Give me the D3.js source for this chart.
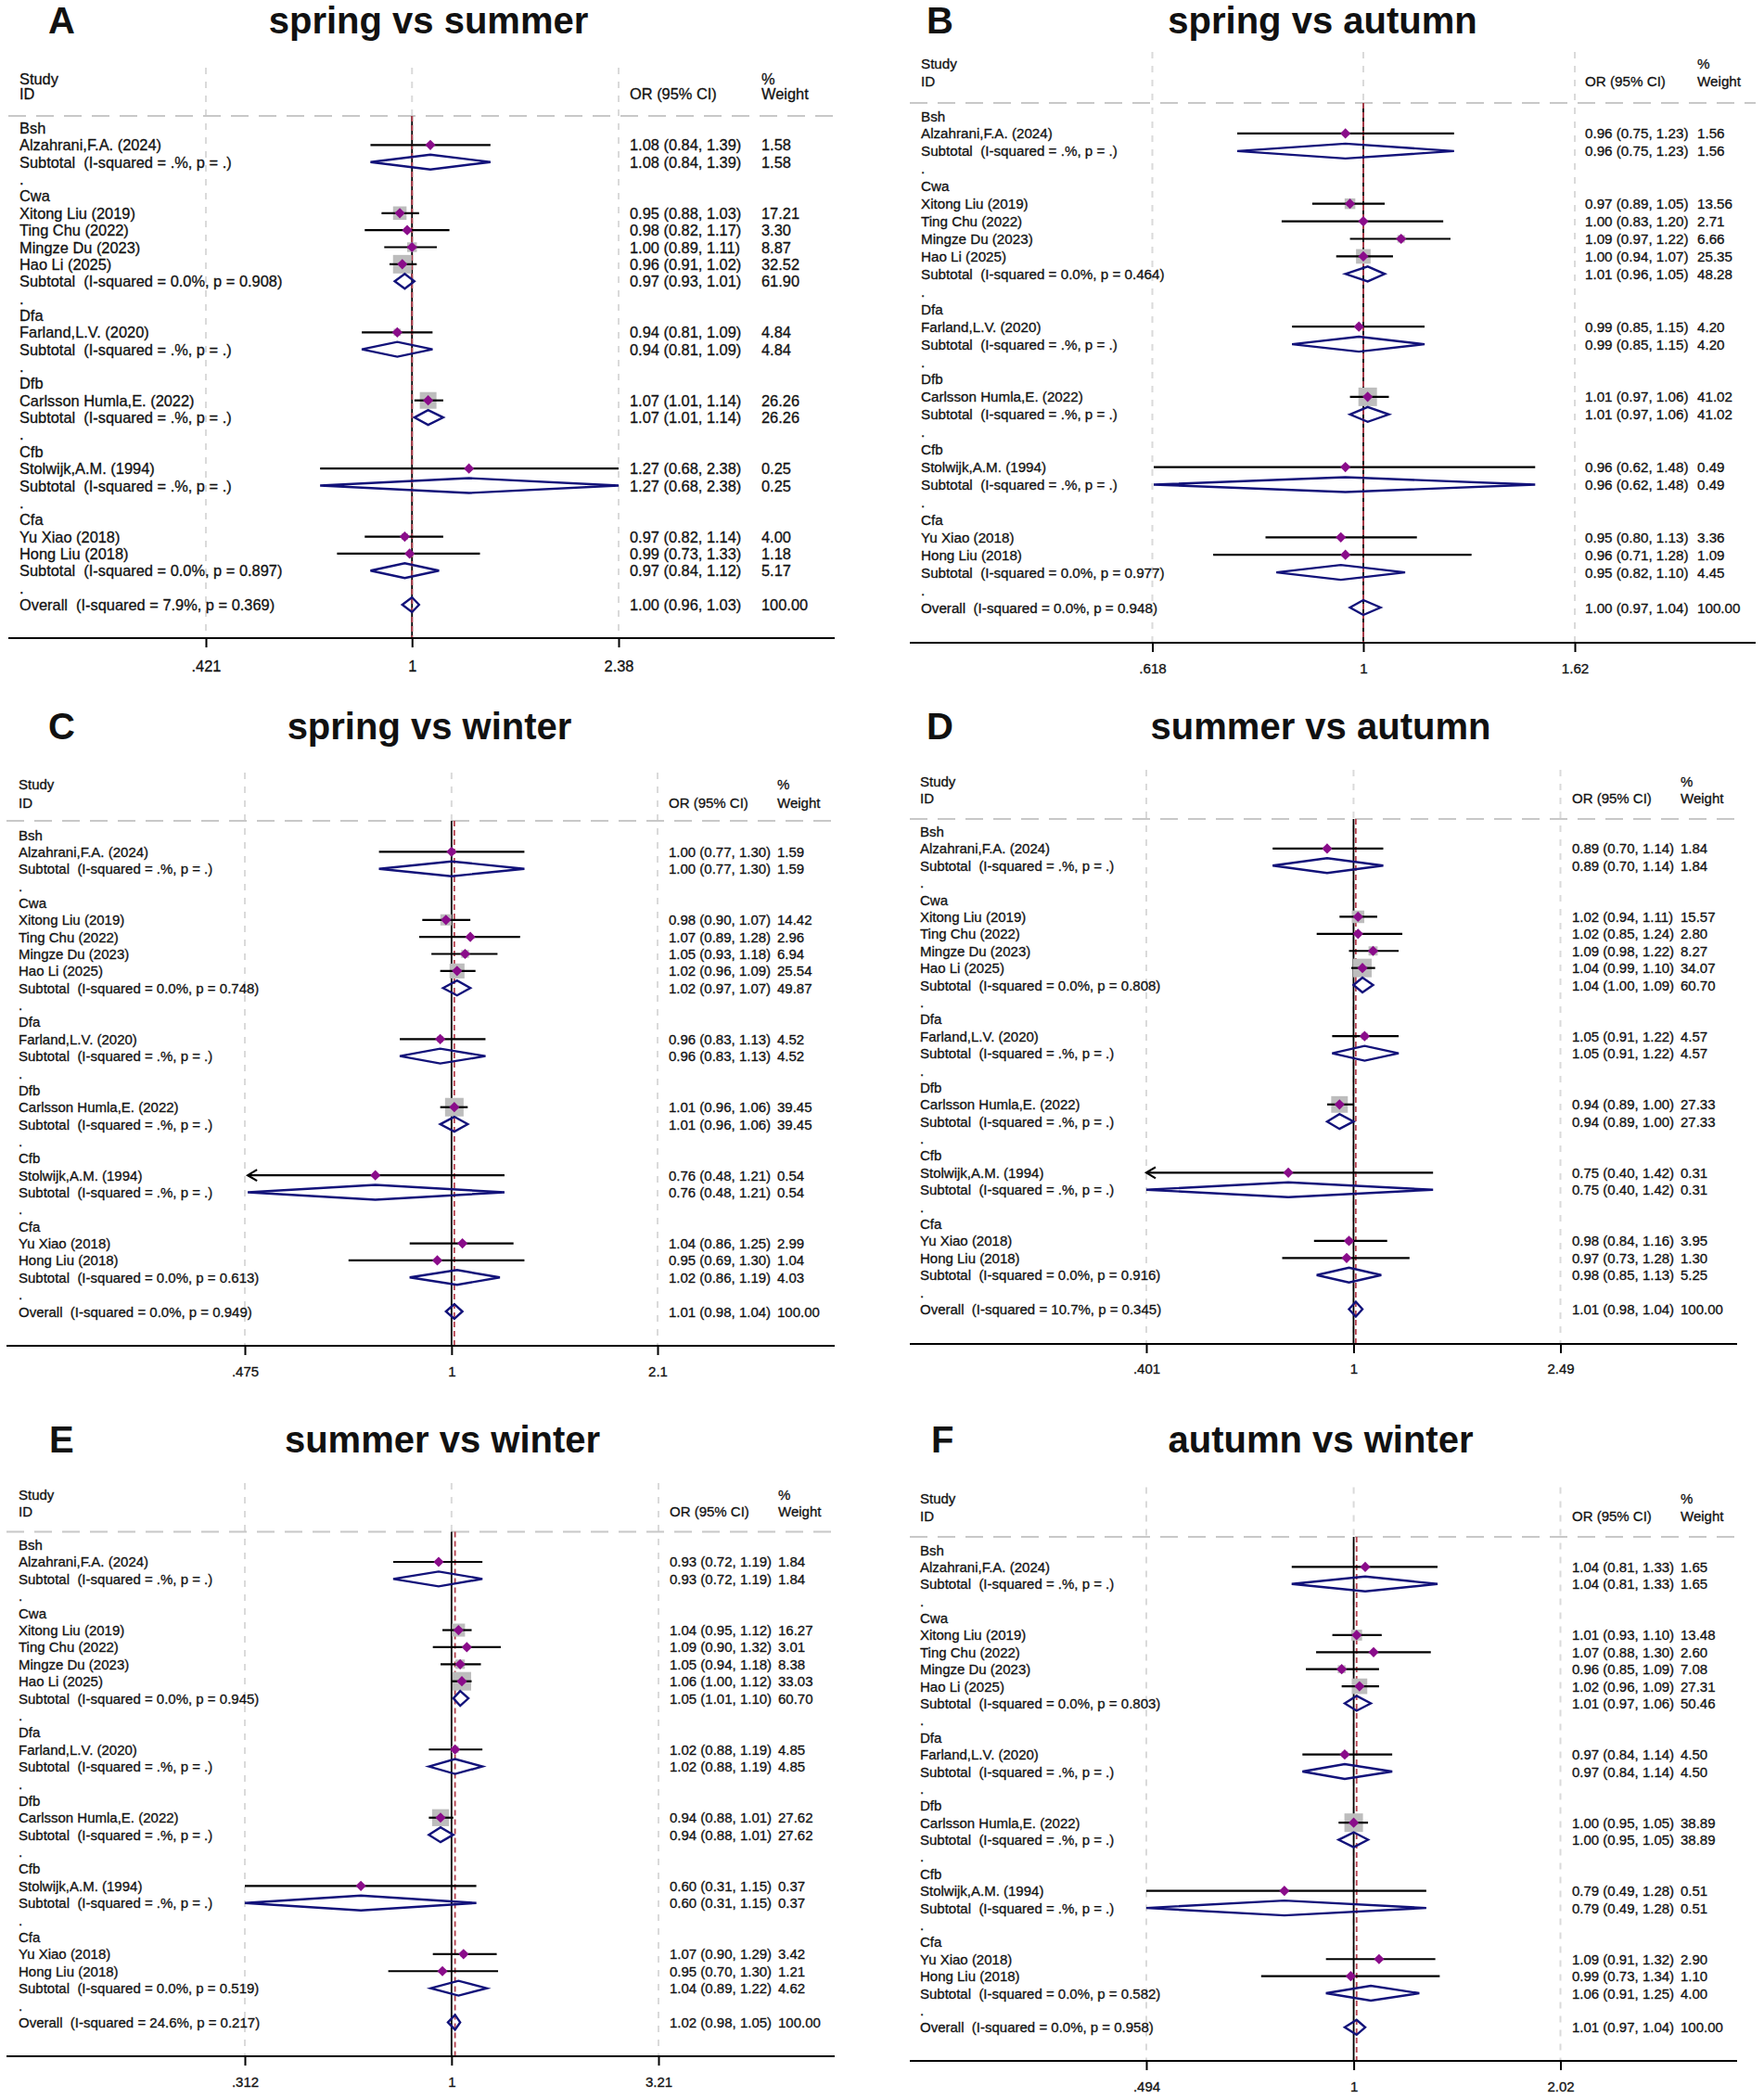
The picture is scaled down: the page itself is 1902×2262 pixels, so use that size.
<!DOCTYPE html>
<html>
<head>
<meta charset="utf-8">
<script src="https://cdn.jsdelivr.net/npm/d3@7"></script>
<style>
  body { margin: 0; background: #fff; }
  text { font-family: "Liberation Sans", Arial, sans-serif; white-space: pre; fill: #111; }
  .row text, .hdr, .tick text { stroke: #111; stroke-width: 0.3px; }
</style>
</head>
<body>
<svg id="chart" width="1902" height="2262"></svg>
<script>
// ---- data ----
const studies = ['Alzahrani,F.A. (2024)', 'Xitong Liu (2019)', 'Ting Chu (2022)', 'Mingze Du (2023)',
  'Hao Li (2025)', 'Farland,L.V. (2020)', 'Carlsson Humla,E. (2022)', 'Stolwijk,A.M. (1994)',
  'Yu Xiao (2018)', 'Hong Liu (2018)'];
const studyGroup = ['Bsh', 'Cwa', 'Cwa', 'Cwa', 'Cwa', 'Dfa', 'Dfb', 'Cfb', 'Cfa', 'Cfa'];
const groups = ['Bsh', 'Cwa', 'Dfa', 'Dfb', 'Cfb', 'Cfa'];

const panelLetters = ['A', 'B', 'C', 'D', 'E', 'F'];
const panelTitles = ['spring vs summer', 'spring vs autumn', 'spring vs winter',
  'summer vs autumn', 'summer vs winter', 'autumn vs winter'];
const tickLabels = [
  ['.421', '1', '2.38'], ['.618', '1', '1.62'], ['.475', '1', '2.1'],
  ['.401', '1', '2.49'], ['.312', '1', '3.21'], ['.494', '1', '2.02']
];
// studies that run off the left end of the axis and get an arrow
const arrowStudies = [[], [], ['Stolwijk,A.M. (1994)'], ['Stolwijk,A.M. (1994)'], [], []];

// [OR, lower, upper, weight]
const studyA = [[1.08, 0.84, 1.39, 1.58], [0.95, 0.88, 1.03, 17.21], [0.98, 0.82, 1.17, 3.30], [1.00, 0.89, 1.11, 8.87],
  [0.96, 0.91, 1.02, 32.52], [0.94, 0.81, 1.09, 4.84], [1.07, 1.01, 1.14, 26.26], [1.27, 0.68, 2.38, 0.25],
  [0.97, 0.82, 1.14, 4.00], [0.99, 0.73, 1.33, 1.18]];
const studyB = [[0.96, 0.75, 1.23, 1.56], [0.97, 0.89, 1.05, 13.56], [1.00, 0.83, 1.20, 2.71], [1.09, 0.97, 1.22, 6.66],
  [1.00, 0.94, 1.07, 25.35], [0.99, 0.85, 1.15, 4.20], [1.01, 0.97, 1.06, 41.02], [0.96, 0.62, 1.48, 0.49],
  [0.95, 0.80, 1.13, 3.36], [0.96, 0.71, 1.28, 1.09]];
const studyC = [[1.00, 0.77, 1.30, 1.59], [0.98, 0.90, 1.07, 14.42], [1.07, 0.89, 1.28, 2.96], [1.05, 0.93, 1.18, 6.94],
  [1.02, 0.96, 1.09, 25.54], [0.96, 0.83, 1.13, 4.52], [1.01, 0.96, 1.06, 39.45], [0.76, 0.48, 1.21, 0.54],
  [1.04, 0.86, 1.25, 2.99], [0.95, 0.69, 1.30, 1.04]];
const studyD = [[0.89, 0.70, 1.14, 1.84], [1.02, 0.94, 1.11, 15.57], [1.02, 0.85, 1.24, 2.80], [1.09, 0.98, 1.22, 8.27],
  [1.04, 0.99, 1.10, 34.07], [1.05, 0.91, 1.22, 4.57], [0.94, 0.89, 1.00, 27.33], [0.75, 0.40, 1.42, 0.31],
  [0.98, 0.84, 1.16, 3.95], [0.97, 0.73, 1.28, 1.30]];
const studyE = [[0.93, 0.72, 1.19, 1.84], [1.04, 0.95, 1.12, 16.27], [1.09, 0.90, 1.32, 3.01], [1.05, 0.94, 1.18, 8.38],
  [1.06, 1.00, 1.12, 33.03], [1.02, 0.88, 1.19, 4.85], [0.94, 0.88, 1.01, 27.62], [0.60, 0.31, 1.15, 0.37],
  [1.07, 0.90, 1.29, 3.42], [0.95, 0.70, 1.30, 1.21]];
const studyF = [[1.04, 0.81, 1.33, 1.65], [1.01, 0.93, 1.10, 13.48], [1.07, 0.88, 1.30, 2.60], [0.96, 0.85, 1.09, 7.08],
  [1.02, 0.96, 1.09, 27.31], [0.97, 0.84, 1.14, 4.50], [1.00, 0.95, 1.05, 38.89], [0.79, 0.49, 1.28, 0.51],
  [1.09, 0.91, 1.32, 2.90], [0.99, 0.73, 1.34, 1.10]];

// [OR, lower, upper, weight, I-squared, p]  (null = single study)
const subtotalA = [[1.08, 0.84, 1.39, 1.58, null, null], [0.97, 0.93, 1.01, 61.90, 0.0, 0.908], [0.94, 0.81, 1.09, 4.84, null, null],
  [1.07, 1.01, 1.14, 26.26, null, null], [1.27, 0.68, 2.38, 0.25, null, null], [0.97, 0.84, 1.12, 5.17, 0.0, 0.897]];
const subtotalB = [[0.96, 0.75, 1.23, 1.56, null, null], [1.01, 0.96, 1.05, 48.28, 0.0, 0.464], [0.99, 0.85, 1.15, 4.20, null, null],
  [1.01, 0.97, 1.06, 41.02, null, null], [0.96, 0.62, 1.48, 0.49, null, null], [0.95, 0.82, 1.10, 4.45, 0.0, 0.977]];
const subtotalC = [[1.00, 0.77, 1.30, 1.59, null, null], [1.02, 0.97, 1.07, 49.87, 0.0, 0.748], [0.96, 0.83, 1.13, 4.52, null, null],
  [1.01, 0.96, 1.06, 39.45, null, null], [0.76, 0.48, 1.21, 0.54, null, null], [1.02, 0.86, 1.19, 4.03, 0.0, 0.613]];
const subtotalD = [[0.89, 0.70, 1.14, 1.84, null, null], [1.04, 1.00, 1.09, 60.70, 0.0, 0.808], [1.05, 0.91, 1.22, 4.57, null, null],
  [0.94, 0.89, 1.00, 27.33, null, null], [0.75, 0.40, 1.42, 0.31, null, null], [0.98, 0.85, 1.13, 5.25, 0.0, 0.916]];
const subtotalE = [[0.93, 0.72, 1.19, 1.84, null, null], [1.05, 1.01, 1.10, 60.70, 0.0, 0.945], [1.02, 0.88, 1.19, 4.85, null, null],
  [0.94, 0.88, 1.01, 27.62, null, null], [0.60, 0.31, 1.15, 0.37, null, null], [1.04, 0.89, 1.22, 4.62, 0.0, 0.519]];
const subtotalF = [[1.04, 0.81, 1.33, 1.65, null, null], [1.01, 0.97, 1.06, 50.46, 0.0, 0.803], [0.97, 0.84, 1.14, 4.50, null, null],
  [1.00, 0.95, 1.05, 38.89, null, null], [0.79, 0.49, 1.28, 0.51, null, null], [1.06, 0.91, 1.25, 4.00, 0.0, 0.582]];

const overallA = [1.00, 0.96, 1.03, 100.00, 7.9, 0.369];
const overallB = [1.00, 0.97, 1.04, 100.00, 0.0, 0.948];
const overallC = [1.01, 0.98, 1.04, 100.00, 0.0, 0.949];
const overallD = [1.01, 0.98, 1.04, 100.00, 10.7, 0.345];
const overallE = [1.02, 0.98, 1.05, 100.00, 24.6, 0.217];
const overallF = [1.01, 0.97, 1.04, 100.00, 0.0, 0.958];

const studyData = [studyA, studyB, studyC, studyD, studyE, studyF];
const subtotalData = [subtotalA, subtotalB, subtotalC, subtotalD, subtotalE, subtotalF];
const overallData = [overallA, overallB, overallC, overallD, overallE, overallF];

// ---- layout of each panel (pixels) ----
const layouts = [
  { letterX: 52, titleX: 462, titleY: 22, studyY: 85, idY: 101, headerY: 125, row0: 138, rowLast: 652,
    axisY: 688, tickLabelY: 718, xMin: 222, xMax: 667, left: 9, right: 900, textX: 21, orX: 679, wX: 821, font: 16.4 },
  { letterX: 999, titleX: 1426, titleY: 22, studyY: 68, idY: 87, headerY: 111, row0: 125, rowLast: 655,
    axisY: 693, tickLabelY: 721, xMin: 1242.5, xMax: 1698, left: 981, right: 1893, textX: 993, orX: 1709, wX: 1830, font: 15.2 },
  { letterX: 52, titleX: 463, titleY: 783, studyY: 845, idY: 865, headerY: 885, row0: 900, rowLast: 1414,
    axisY: 1451, tickLabelY: 1479, xMin: 264, xMax: 709, left: 7, right: 900, textX: 20, orX: 721, wX: 838, font: 15 },
  { letterX: 999, titleX: 1424, titleY: 783, studyY: 842, idY: 860, headerY: 883, row0: 896.5, rowLast: 1411.5,
    axisY: 1449, tickLabelY: 1476, xMin: 1236, xMax: 1682.5, left: 981, right: 1873, textX: 992, orX: 1695, wX: 1812, font: 15 },
  { letterX: 53, titleX: 477, titleY: 1552, studyY: 1611, idY: 1629, headerY: 1651.5, row0: 1665.6, rowLast: 2180.4,
    axisY: 2217, tickLabelY: 2244.5, xMin: 264, xMax: 710, left: 7, right: 900, textX: 20, orX: 722, wX: 839, font: 15 },
  { letterX: 1004, titleX: 1424, titleY: 1552, studyY: 1615.6, idY: 1634.5, headerY: 1657, row0: 1671, rowLast: 2185.8,
    axisY: 2222, tickLabelY: 2250, xMin: 1236, xMax: 1682.5, left: 981, right: 1873, textX: 992, orX: 1695, wX: 1812, font: 15 }
];

const PURPLE = '#8a0c8a';
const NAVY = '#12127a';
const BOX_GREY = '#bdbdbd';
const MAX_BOX = 20;

var svg = d3.select('#chart');

function ciText(v) {
  return v[0].toFixed(2) + ' (' + v[1].toFixed(2) + ', ' + v[2].toFixed(2) + ')';
}
function hetText(v) {
  return v[4] === null ? '(I-squared = .%, p = .)'
    : '(I-squared = ' + v[4].toFixed(1) + '%, p = ' + v[5].toFixed(3) + ')';
}

function buildRows(i) {
  var rows = [];
  groups.forEach(function (g, gi) {
    rows.push({ type: 'group', label: g });
    studyGroup.forEach(function (sg, si) {
      if (sg === g) rows.push({ type: 'study', label: studies[si], v: studyData[i][si] });
    });
    rows.push({ type: 'subtotal', label: 'Subtotal  ' + hetText(subtotalData[i][gi]), v: subtotalData[i][gi] });
    rows.push({ type: 'spacer', label: '.' });
  });
  rows.push({ type: 'overall', label: 'Overall  ' + hetText(overallData[i]), v: overallData[i] });
  return rows;
}

function drawPanel(i) {
  var L = layouts[i];
  var fs = L.font;
  var g = svg.append('g').attr('class', 'panel');
  var tickVals = tickLabels[i].map(function (t) { return +t; });
  var x = d3.scaleLog().domain([tickVals[0], tickVals[2]]).range([L.xMin, L.xMax]);
  var dMin = tickVals[0], dMax = tickVals[2];
  var cx = function (v) { return x(Math.max(dMin, Math.min(dMax, v))); };
  var rows = buildRows(i);
  var y = d3.scalePoint().domain(d3.range(rows.length)).range([L.row0, L.rowLast]);
  var maxW = d3.max(studyData[i], function (d) { return d[3]; });

  // letter and title
  g.append('text').attr('x', L.letterX).attr('y', L.titleY).attr('dominant-baseline', 'central')
    .style('font-size', '40px').style('font-weight', 'bold').text(panelLetters[i]);
  g.append('text').attr('x', L.titleX).attr('y', L.titleY).attr('dominant-baseline', 'central')
    .attr('text-anchor', 'middle').style('font-size', '40px').style('font-weight', 'bold').text(panelTitles[i]);

  // grid lines at the ticks
  g.selectAll('.grid').data(tickVals).enter().append('line')
    .attr('x1', function (d) { return x(d); }).attr('x2', function (d) { return x(d); })
    .attr('y1', L.studyY - 12).attr('y2', L.axisY)
    .attr('stroke', '#dadada').attr('stroke-width', 2).attr('stroke-dasharray', '7,8');

  // header separator
  g.append('line').attr('x1', L.left).attr('x2', L.right).attr('y1', L.headerY).attr('y2', L.headerY)
    .attr('stroke', '#c8c8c8').attr('stroke-width', 2).attr('stroke-dasharray', '19,11');

  // null line and overall estimate line
  g.append('line').attr('x1', x(1)).attr('x2', x(1)).attr('y1', L.headerY).attr('y2', L.axisY)
    .attr('stroke', '#000').attr('stroke-width', 1.8);
  g.append('line').attr('x1', x(overallData[i][0])).attr('x2', x(overallData[i][0]))
    .attr('y1', L.headerY).attr('y2', L.axisY)
    .attr('stroke', '#b5404e').attr('stroke-width', 1.8).attr('stroke-dasharray', '6,4');

  // axis
  g.append('line').attr('x1', L.left).attr('x2', L.right).attr('y1', L.axisY).attr('y2', L.axisY)
    .attr('stroke', '#000').attr('stroke-width', 2);
  var axis = d3.axisBottom(x).tickValues(tickVals)
    .tickFormat(function (d, k) { return tickLabels[i][k]; })
    .tickSize(10).tickSizeOuter(0).tickPadding(L.tickLabelY - L.axisY - 10 - 0.35 * fs);
  var ax = g.append('g').attr('transform', 'translate(0,' + L.axisY + ')').call(axis);
  ax.select('.domain').remove();
  ax.selectAll('line').attr('stroke-width', 2);
  ax.selectAll('text').style('font-size', fs + 'px').style('font-family', '"Liberation Sans", Arial, sans-serif');

  // header texts
  var hdr = [['Study', L.textX, L.studyY], ['ID', L.textX, L.idY], ['OR (95% CI)', L.orX, L.idY],
    ['%', L.wX, L.studyY], ['Weight', L.wX, L.idY]];
  g.selectAll('.hdr').data(hdr).enter().append('text').attr('class', 'hdr')
    .attr('x', function (d) { return d[1]; }).attr('y', function (d) { return d[2]; })
    .attr('dominant-baseline', 'central').style('font-size', fs + 'px').text(function (d) { return d[0]; });

  // row labels
  var row = g.selectAll('.row').data(rows).enter().append('g').attr('class', 'row')
    .attr('transform', function (d, k) { return 'translate(0,' + y(k) + ')'; });
  row.append('text').attr('x', L.textX)
    .attr('dominant-baseline', 'central').style('font-size', fs + 'px')
    .text(function (d) { return d.label; });
  var withVal = row.filter(function (d) { return d.v; });
  withVal.append('text').attr('x', L.orX).attr('dominant-baseline', 'central').style('font-size', fs + 'px')
    .text(function (d) { return ciText(d.v); });
  withVal.append('text').attr('x', L.wX).attr('dominant-baseline', 'central').style('font-size', fs + 'px')
    .text(function (d) { return d.v[3].toFixed(2); });

  // study marks
  var st = row.filter(function (d) { return d.type === 'study'; });
  st.append('rect')
    .attr('x', function (d) { return x(d.v[0]) - MAX_BOX * Math.sqrt(d.v[3] / maxW) / 2; })
    .attr('y', function (d) { return -MAX_BOX * Math.sqrt(d.v[3] / maxW) / 2; })
    .attr('width', function (d) { return MAX_BOX * Math.sqrt(d.v[3] / maxW); })
    .attr('height', function (d) { return MAX_BOX * Math.sqrt(d.v[3] / maxW); })
    .attr('fill', BOX_GREY);
  st.append('line')
    .attr('x1', function (d) { return cx(d.v[1]); }).attr('x2', function (d) { return cx(d.v[2]); })
    .attr('stroke', '#000').attr('stroke-width', 2.2);
  st.filter(function (d) { return arrowStudies[i].indexOf(d.label) >= 0; })
    .append('path')
    .attr('d', function (d) {
      var ax0 = cx(d.v[1]);
      return 'M' + (ax0 + 10) + ',-6L' + ax0 + ',0L' + (ax0 + 10) + ',6';
    })
    .attr('fill', 'none').attr('stroke', '#000').attr('stroke-width', 2.2);
  var m = 5.6;
  st.append('path')
    .attr('d', function (d) {
      var p = x(d.v[0]);
      return 'M' + (p - m) + ',0L' + p + ',' + (-m) + 'L' + (p + m) + ',0L' + p + ',' + m + 'Z';
    })
    .attr('fill', PURPLE);

  // pooled diamonds
  row.filter(function (d) { return d.type === 'subtotal' || d.type === 'overall'; })
    .append('path')
    .attr('d', function (d) {
      var h = 8;
      return 'M' + cx(d.v[1]) + ',0L' + x(d.v[0]) + ',' + (-h) + 'L' + cx(d.v[2]) + ',0L' + x(d.v[0]) + ',' + h + 'Z';
    })
    .attr('fill', 'none').attr('stroke', NAVY).attr('stroke-width', 2.4).attr('stroke-linejoin', 'miter');
}

d3.range(6).forEach(drawPanel);
</script>
</body>
</html>
